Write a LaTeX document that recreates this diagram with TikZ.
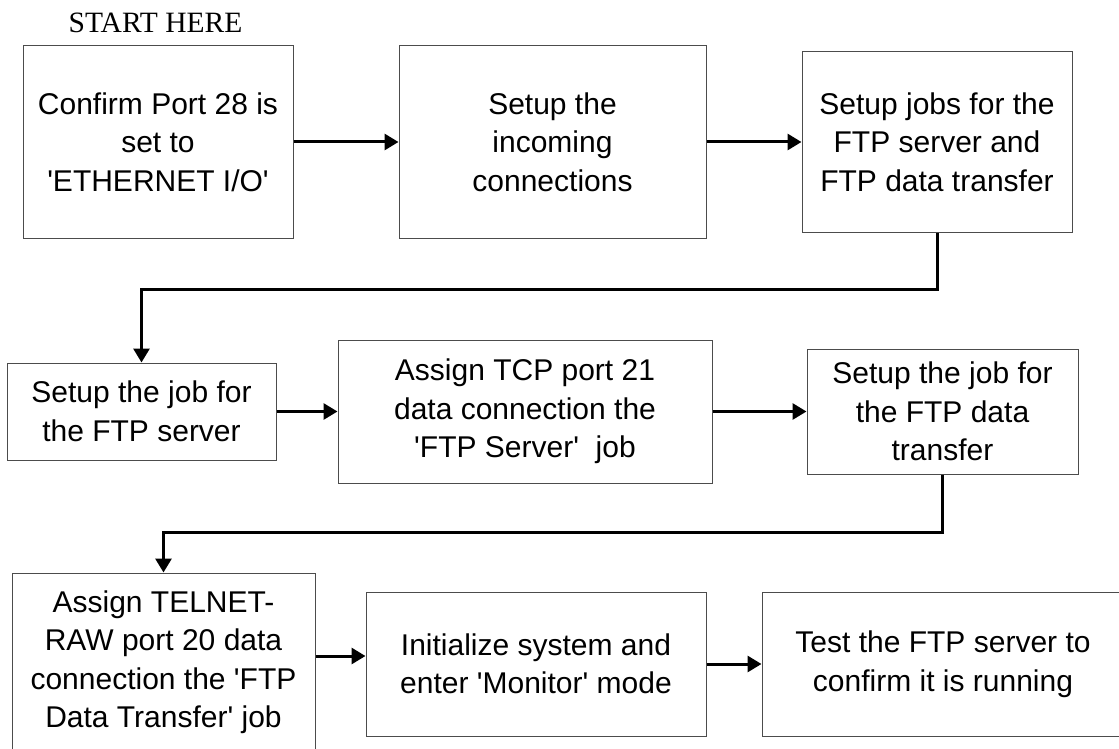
\documentclass[tikz,border=0pt]{standalone}
\usepackage{fontspec}
\setmainfont{Liberation Serif}
\setsansfont{Liberation Sans}
\usetikzlibrary{arrows.meta,calc}
\newcommand{\sq}{\textquotesingle}
\tikzset{
  stepbox/.style={draw=black!70, line width=1pt, inner sep=0pt, align=center,
    font=\sffamily\fontsize{30}{38.5}\selectfont},
  arr/.style={line width=3pt, -{Triangle[length=14pt,width=16pt]}},
}
\begin{document}
\begin{tikzpicture}[x=1pt,y=-1pt]
\useasboundingbox[fill=white] (0,0) rectangle (1119,749);
\node[anchor=base, font=\rmfamily\fontsize{29.5}{30}\selectfont] (start) at (155.5,33) {START HERE};
\node[stepbox, minimum width=270pt, minimum height=192pt] (b1) at (158,142) {Confirm Port 28 is\\set to\\\sq ETHERNET I/O\sq};
\node[stepbox, minimum width=307pt, minimum height=192pt] (b2) at (552.5,142) {Setup the\\incoming\\connections};
\node[stepbox, minimum width=270pt, minimum height=180pt] (b3) at (937,142) {Setup jobs for the\\FTP server and\\FTP data transfer};
\node[stepbox, minimum width=269pt, minimum height=97pt] (b4) at (141.5,411.5) {Setup the job for\\the FTP server};
\node[stepbox, minimum width=374pt, minimum height=143pt] (b5) at (525,411.5) {Assign TCP port 21\\data connection the\\\sq FTP Server\sq\ \ job};
\node[stepbox, minimum width=271pt, minimum height=125pt] (b6) at (942.5,411.5) {Setup the job for\\the FTP data\\transfer};
\node[stepbox, minimum width=303pt, minimum height=178pt] (b7) at (163.5,662) {Assign TELNET-\\RAW port 20 data\\connection the \sq FTP\\Data Transfer\sq\ job};
\node[stepbox, minimum width=340pt, minimum height=144pt] (b8) at (536,664) {Initialize system and\\enter \sq Monitor\sq\ mode};
\node[stepbox, minimum width=362pt, minimum height=144pt] (b9) at (943,664) {Test the FTP server to\\confirm it is running};
\draw[arr] (b1) -- (b2);
\draw[arr] (b2) -- (b3);
\draw[arr] (b3.south) -- ++(0,57) -| (b4.north);
\draw[arr] (b4) -- (b5);
\draw[arr] (b5) -- (b6);
\draw[arr] (b6.south) -- ++(0,58) -| (b7.north);
\draw[arr] ([yshift=8pt]b8.west -| b7.east) -- ([yshift=8pt]b8.west);
\draw[arr] (b8) -- (b9);
\end{tikzpicture}
\end{document}
